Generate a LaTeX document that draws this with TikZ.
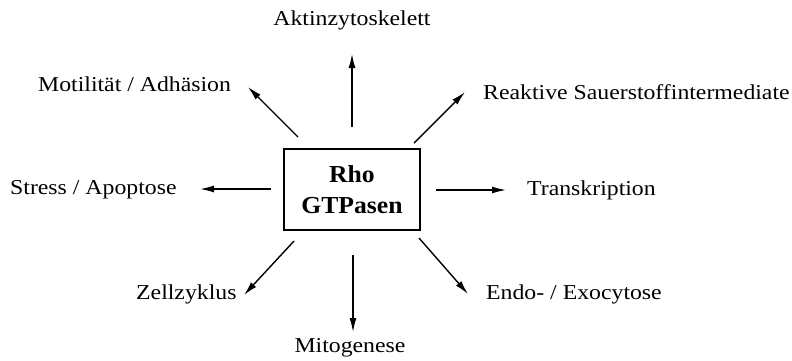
\documentclass[tikz,border=0pt]{standalone}
\usepackage{fontspec}
\setmainfont{Liberation Serif}[FakeStretch=1.12]
\newfontfamily\boxfont{Liberation Serif}[FakeStretch=1.05]
\usepackage{tikz}
\usetikzlibrary{arrows.meta}

\begin{document}
\begin{tikzpicture}[x=1bp,y=-1bp]
\useasboundingbox (0,0) rectangle (792,360);
\node[draw,line width=1.3bp,minimum width=136bp,minimum height=81bp,inner sep=0pt,align=center,
      font=\boxfont\bfseries\fontsize{24.5}{31}\selectfont] (rho) at (352,189.5) {Rho\\GTPasen};
\begin{scope}[every node/.style={inner sep=0pt,font=\fontsize{21.3}{25}\selectfont}]
    \node (akt) at (352,20) {Aktinzytoskelett};
    \node[anchor=west] (mot) at (38,84) {Motilität / Adhäsion};
    \node[anchor=west] (ros) at (483,92) {Reaktive Sauerstoffintermediate};
    \node[anchor=west] (str) at (10,190) {Stress / Apoptose};
    \node[anchor=west] (tra) at (527,190) {Transkription};
    \node[anchor=west] (zel) at (136,294) {Zellzyklus};
    \node (mit) at (350,348) {Mitogenese};
    \node[anchor=west] (end) at (486,294) {Endo- / Exocytose};
\end{scope}
\begin{scope}[every path/.style={line width=1.4bp,-{Latex[length=14bp,width=7bp]}}]
    \coordinate (aktS) at (352,127);  \coordinate (aktE) at (352,54);
    \coordinate (motS) at (298,137);  \coordinate (motE) at (248,87);
    \coordinate (rosS) at (414,143);  \coordinate (rosE) at (465,92);
    \coordinate (strS) at (271,189);  \coordinate (strE) at (200,189);
    \coordinate (traS) at (436,190);  \coordinate (traE) at (506,190);
    \coordinate (zelS) at (294,241);  \coordinate (zelE) at (244,295);
    \coordinate (mitS) at (353,255);  \coordinate (mitE) at (353,332);
    \coordinate (endS) at (419,238);  \coordinate (endE) at (468,294);

    \draw (aktS) -- (aktE);
    \draw (motS) -- (motE);
    \draw (rosS) -- (rosE);
    \draw (strS) -- (strE);
    \draw (traS) -- (traE);
    \draw (zelS) -- (zelE);
    \draw (mitS) -- (mitE);
    \draw (endS) -- (endE);
\end{scope}
\end{tikzpicture}
\end{document}
